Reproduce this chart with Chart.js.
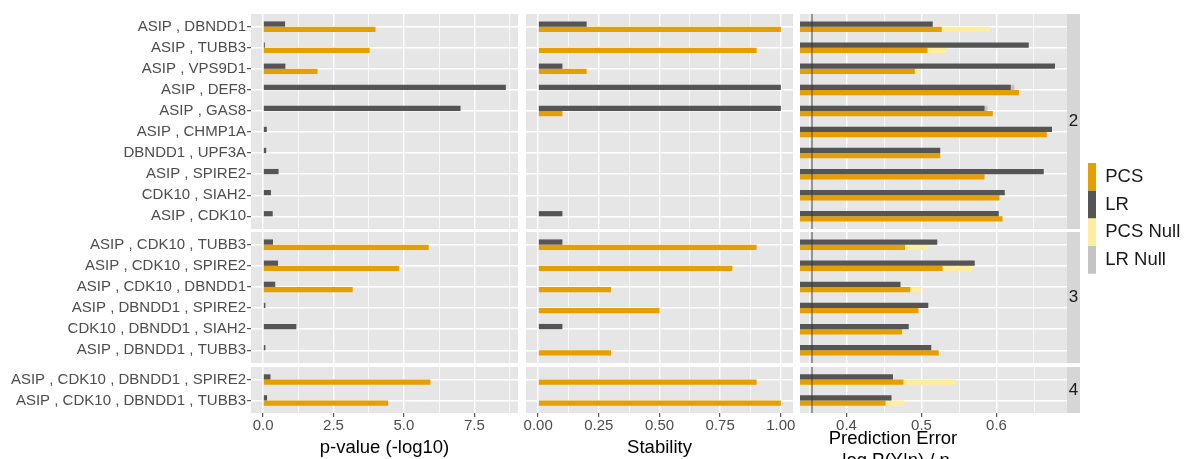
<!DOCTYPE html>
<html>
<head>
<meta charset="utf-8">
<title>Gene set comparison</title>
<script src="https://cdn.jsdelivr.net/npm/chart.js@4.4.0/dist/chart.umd.min.js"></script>
<style>
    html, body { margin: 0; padding: 0; background: #ffffff; overflow: hidden; }
    #figure { position: relative; width: 1185px; height: 459px; overflow: hidden; }
    #figure canvas { position: absolute; }
</style>
</head>
<body>
<div id="figure"></div>
<script>
'use strict'

// Gene sets in plotting order, and the set size (facet) each belongs to.
const geneSets = [
    'ASIP , DBNDD1', 'ASIP , TUBB3', 'ASIP , VPS9D1', 'ASIP , DEF8', 'ASIP , GAS8',
    'ASIP , CHMP1A', 'DBNDD1 , UPF3A', 'ASIP , SPIRE2', 'CDK10 , SIAH2', 'ASIP , CDK10',
    'ASIP , CDK10 , TUBB3', 'ASIP , CDK10 , SPIRE2', 'ASIP , CDK10 , DBNDD1',
    'ASIP , DBNDD1 , SPIRE2', 'CDK10 , DBNDD1 , SIAH2', 'ASIP , DBNDD1 , TUBB3',
    'ASIP , CDK10 , DBNDD1 , SPIRE2', 'ASIP , CDK10 , DBNDD1 , TUBB3'
];
const setSizes = ['2', '2', '2', '2', '2', '2', '2', '2', '2', '2',
                  '3', '3', '3', '3', '3', '3', '4', '4'];
const facetLabels = ['2', '3', '4'];

// p-value (-log10)
const pvalueLR  = [0.78, 0.06, 0.79, 8.62, 7.01, 0.13, 0.11, 0.55, 0.28, 0.34, 0.35, 0.53, 0.43, 0.08, 1.18, 0.08, 0.26, 0.14];
const pvaluePCS = [3.99, 3.78, 1.93, 0, 0, 0, 0, 0, 0, 0, 5.88, 4.83, 3.18, 0, 0, 0, 5.94, 4.44];

// Stability
const stabilityLR  = [0.2, 0, 0.1, 1, 1, 0, 0, 0, 0, 0.1, 0.1, 0, 0, 0, 0.1, 0, 0, 0];
const stabilityPCS = [1, 0.9, 0.2, 0, 0.1, 0, 0, 0, 0, 0, 0.9, 0.8, 0.3, 0.5, 0, 0.3, 0.9, 1];

// Prediction error, -log P(Y|n) / n (null: hidden behind the fitted bar)
const errorLR      = [0.515, 0.643, 0.678, 0.619, 0.584, 0.674, 0.525, 0.663, 0.611, 0.603, 0.521, 0.571, 0.472, 0.509, 0.483, 0.513, 0.462, 0.460];
const errorPCS     = [0.527, 0.508, 0.491, 0.630, 0.595, 0.667, 0.525, 0.584, 0.604, 0.608, 0.478, 0.528, 0.485, 0.496, 0.474, 0.523, 0.476, 0.452];
const errorPCSNull = [0.591, 0.533, 0.497, null, null, null, null, null, null, null, 0.509, 0.568, 0.499, null, 0.476, null, 0.546, 0.477];
const errorLRNull  = [null, null, null, 0.624, 0.588, null, null, null, null, null, null, null, null, null, null, null, null, null];
const errorBaseline = 0.354;

// Axis ticks and limits
const pvalueTicks = [0, 2.5, 5, 7.5];
const stabilityTicks = [0, 0.25, 0.5, 0.75, 1];
const errorTicks = [0.4, 0.5, 0.6];
const errorLimits = [0.338, 0.694];

const PCS_COLOR = '#E69F00';
const LR_COLOR = '#555555';
const PCS_NULL_COLOR = '#FFEC9C';
const LR_NULL_COLOR = '#C4C4C4';
const PANEL_BG = '#E6E6E6';
const STRIP_BG = '#D6D6D6';
const BAR = 5.25;
const TITLE_SIZE = 18.5;

Chart.defaults.font.family = "'Liberation Sans', Arial, Helvetica, sans-serif";
Chart.defaults.color = '#4D4D4D';

const pvalueMax = Math.max(...pvalueLR, ...pvaluePCS);

// One column per measure; every column is split into the three set-size facets.
// edgeRoom widens the bottom canvas so end tick labels are not cut off.
const panels = [
    {lr: pvalueLR, pcs: pvaluePCS, ticks: pvalueTicks, digits: 1,
     min: -0.05 * pvalueMax, max: 1.05 * pvalueMax,
     title: 'p-value (-log10)', left: 0, plotLeft: 251, plotRight: 518, strip: 0, edgeRoom: 0},
    {lr: stabilityLR, pcs: stabilityPCS, ticks: stabilityTicks, digits: 2,
     min: -0.05, max: 1.05,
     title: 'Stability', left: 526, plotLeft: 526, plotRight: 793, strip: 0, edgeRoom: 12},
    {lr: errorLR, pcs: errorPCS, lrNull: errorLRNull, pcsNull: errorPCSNull,
     ticks: errorTicks, digits: 1, min: errorLimits[0], max: errorLimits[1],
     title: ['Prediction Error', '-log P(Y|n) / n'], titleLeft: 719,
     left: 800, plotLeft: 800, plotRight: 1067, strip: 13, edgeRoom: 0, baseline: errorBaseline}
];

const facetRects = [
    {top: 14, bottom: 229},
    {top: 232, bottom: 363},
    {top: 367, bottom: 413}
];

/**
 * Fills the plotting area with the panel grey before grid and bars are drawn.
 */
const panelBackground = {
    id: 'panelBackground',
    beforeDraw(chart) {
        const {ctx, chartArea: a} = chart;
        ctx.save();
        ctx.fillStyle = PANEL_BG;
        ctx.fillRect(a.left, a.top, a.right - a.left, a.bottom - a.top);
        ctx.restore();
    }
};

/**
 * Vertical reference line on the value axis.
 */
const referenceLine = {
    id: 'referenceLine',
    afterDatasetsDraw(chart, args, opts) {
        if (opts.value === undefined || opts.value === null) return;
        const {ctx, chartArea: a} = chart;
        const x = chart.scales.x.getPixelForValue(opts.value);
        ctx.save();
        ctx.strokeStyle = '#333333';
        ctx.lineWidth = 0.9;
        ctx.beginPath();
        ctx.moveTo(x, a.top);
        ctx.lineTo(x, a.bottom);
        ctx.stroke();
        ctx.restore();
    }
};

/**
 * Facet strip on the right of the panel, holding the set size.
 */
const facetStrip = {
    id: 'facetStrip',
    afterDraw(chart, args, opts) {
        if (!opts.width) return;
        const {ctx, chartArea: a} = chart;
        ctx.save();
        ctx.fillStyle = STRIP_BG;
        ctx.fillRect(a.right, a.top, opts.width, a.bottom - a.top);
        ctx.fillStyle = '#1A1A1A';
        ctx.font = "17px 'Liberation Sans', Arial, sans-serif";
        ctx.textAlign = 'center';
        ctx.textBaseline = 'middle';
        ctx.fillText(opts.label, a.right + opts.width / 2, (a.top + a.bottom) / 2);
        ctx.restore();
    }
};

function makeCanvas(left, top, width, height) {
    const canvas = document.createElement('canvas');
    canvas.width = width;
    canvas.height = height;
    canvas.style.left = left + 'px';
    canvas.style.top = top + 'px';
    canvas.style.width = width + 'px';
    canvas.style.height = height + 'px';
    document.getElementById('figure').appendChild(canvas);
    return canvas;
}

// Axes keep exactly the size they are given; no extra room for edge labels.
function noPadding(scale) {
    scale.paddingLeft = 0;
    scale.paddingRight = 0;
    scale.paddingTop = 0;
    scale.paddingBottom = 0;
}

/**
 * Major ticks plus the minor values half way between them, inside the limits.
 */
function gridValues(majors, min, max) {
    const step = majors[1] - majors[0];
    const minors = [majors[0] - step / 2].concat(majors.map((m) => m + step / 2));
    return majors.concat(minors)
        .filter((v) => v >= min && v <= max)
        .sort((a, b) => a - b);
}

function barSeries(label, values, rows, color, stack) {
    const data = [];
    rows.forEach((r, i) => {
        if (values[r] !== null) {
            data.push({x: values[r], y: i});
        }
    });
    const series = {
        label: label,
        data: data,
        backgroundColor: color,
        borderWidth: 0,
        inflateAmount: 0,
        barThickness: BAR,
        clip: 0
    };
    if (stack) series.stack = stack;
    return series;
}

function drawFacet(panel, col, f, rows) {
    const rect = facetRects[f];
    const isBottom = f === facetRects.length - 1;
    const titleBelow = isBottom && Array.isArray(panel.title);
    const room = isBottom ? panel.edgeRoom : 0;
    const left = (titleBelow ? panel.titleLeft : panel.left) - room;
    const yWidth = panel.plotLeft - left;
    const rightPad = panel.strip + room;
    const width = panel.plotRight + rightPad - left;
    const panelHeight = rect.bottom - rect.top;
    // The title block is pulled up so its first line sits just under the tick labels.
    const titlePull = 9;
    const titleHeight = titleBelow ? panel.title.length * TITLE_SIZE * 1.2 - titlePull : 0;

    let height = panelHeight;
    if (isBottom) {
        height = titleBelow ? 105 : 459 - rect.top;
    }
    const xHeight = height - panelHeight - titleHeight;

    const majors = panel.ticks;
    const isMajor = (v) => majors.some((m) => Math.abs(m - v) < 1e-9);
    const xValues = gridValues(majors, panel.min, panel.max);

    let datasets;
    if (panel.lrNull) {
        // Null-model bars sit behind the fitted ones in the same slot.
        datasets = [
            barSeries('LR', panel.lr, rows, LR_COLOR, 'lr'),
            barSeries('PCS', panel.pcs, rows, PCS_COLOR, 'pcs'),
            barSeries('LR Null', panel.lrNull, rows, LR_NULL_COLOR, 'lr'),
            barSeries('PCS Null', panel.pcsNull, rows, PCS_NULL_COLOR, 'pcs')
        ];
    } else {
        datasets = [
            barSeries('LR', panel.lr, rows, LR_COLOR),
            barSeries('PCS', panel.pcs, rows, PCS_COLOR)
        ];
    }

    const canvas = makeCanvas(left, rect.top, width, height);
    new Chart(canvas.getContext('2d'), {
        type: 'bar',
        data: {datasets: datasets},
        options: {
            indexAxis: 'y',
            responsive: false,
            animation: false,
            events: [],
            layout: {autoPadding: false, padding: {right: rightPad}},
            scales: {
                x: {
                    type: 'linear',
                    min: panel.min,
                    max: panel.max,
                    stacked: false,
                    afterBuildTicks: (scale) => {
                        scale.ticks = xValues.map((v) => ({value: v}));
                    },
                    afterFit: (scale) => {
                        scale.height = xHeight;
                        noPadding(scale);
                    },
                    grid: {
                        display: true,
                        drawOnChartArea: true,
                        color: '#ffffff',
                        lineWidth: (ctx) => (ctx.tick && isMajor(ctx.tick.value)) ? 1.4 : 0.7,
                        drawTicks: isBottom,
                        tickLength: 4,
                        tickWidth: 1,
                        tickColor: (ctx) => (ctx.tick && isMajor(ctx.tick.value)) ? '#333333' : 'rgba(0,0,0,0)'
                    },
                    border: {display: false},
                    ticks: {
                        display: isBottom,
                        autoSkip: false,
                        maxRotation: 0,
                        padding: 0,
                        color: '#4D4D4D',
                        font: {size: 15},
                        callback: (v) => isMajor(v) ? v.toFixed(panel.digits) : ''
                    },
                    title: {
                        display: isBottom && !titleBelow,
                        text: panel.title,
                        color: '#000000',
                        font: {size: TITLE_SIZE},
                        padding: 0
                    }
                },
                y: {
                    type: 'linear',
                    reverse: true,
                    offset: false,
                    min: -0.6,
                    max: rows.length - 0.4,
                    afterBuildTicks: (scale) => {
                        scale.ticks = rows.map((r, i) => ({value: i}));
                    },
                    afterFit: (scale) => {
                        scale.width = yWidth;
                        noPadding(scale);
                    },
                    grid: {
                        display: true,
                        drawOnChartArea: true,
                        color: '#ffffff',
                        lineWidth: 1.4,
                        offset: false,
                        drawTicks: col === 0,
                        tickLength: 4,
                        tickWidth: 1,
                        tickColor: '#333333'
                    },
                    border: {display: false},
                    ticks: {
                        display: col === 0,
                        autoSkip: false,
                        padding: 1,
                        color: '#4D4D4D',
                        font: {size: 15},
                        callback: (v) => geneSets[rows[v]]
                    }
                }
            },
            plugins: {
                legend: {display: false},
                tooltip: {enabled: false},
                title: {
                    display: titleBelow,
                    position: 'bottom',
                    text: panel.title,
                    color: '#000000',
                    font: {size: TITLE_SIZE, weight: 'normal', lineHeight: 1.2},
                    padding: {top: -titlePull, bottom: 0}
                },
                referenceLine: {value: panel.baseline},
                facetStrip: {width: panel.strip, label: facetLabels[f]}
            }
        },
        plugins: [panelBackground, referenceLine, facetStrip]
    });
}

function drawLegend() {
    const canvas = makeCanvas(1088, 163, 220, 120);
    new Chart(canvas.getContext('2d'), {
        type: 'bar',
        data: {
            labels: [],
            datasets: [
                {label: 'PCS', data: [], backgroundColor: PCS_COLOR, borderWidth: 0},
                {label: 'LR', data: [], backgroundColor: LR_COLOR, borderWidth: 0},
                {label: 'PCS Null', data: [], backgroundColor: PCS_NULL_COLOR, borderWidth: 0},
                {label: 'LR Null', data: [], backgroundColor: LR_NULL_COLOR, borderWidth: 0}
            ]
        },
        options: {
            responsive: false,
            animation: false,
            events: [],
            layout: {autoPadding: false},
            scales: {x: {display: false}, y: {display: false}},
            plugins: {
                tooltip: {enabled: false},
                legend: {
                    position: 'left',
                    align: 'start',
                    labels: {
                        boxWidth: 8,
                        boxHeight: 27.7,
                        padding: 0,
                        color: '#1A1A1A',
                        font: {size: TITLE_SIZE}
                    }
                }
            }
        }
    });
}

panels.forEach((panel, col) => {
    facetLabels.forEach((facet, f) => {
        const rows = geneSets.map((g, i) => i).filter((i) => setSizes[i] === facet);
        drawFacet(panel, col, f, rows);
    });
});
drawLegend();
</script>
</body>
</html>
